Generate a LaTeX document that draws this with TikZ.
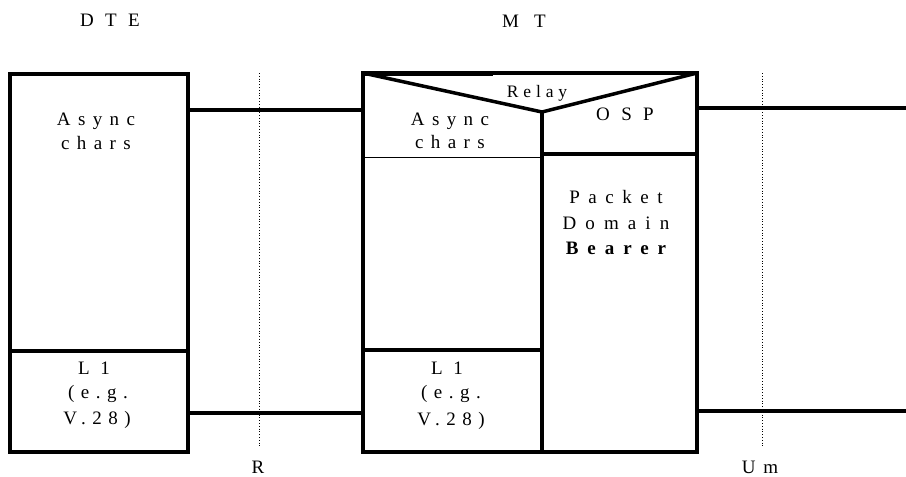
\documentclass[tikz,border=0pt]{standalone}
\usepackage{fontspec}
\setmainfont{Liberation Serif}
\newcommand{\lsp}[1]{\addfontfeature{LetterSpace=#1}}
\begin{document}
\begin{tikzpicture}[x=1pt,y=-1pt,
  txt/.style={font=\fontsize{19}{24}\selectfont, inner sep=0pt, anchor=base},
  boxn/.style={draw, line width=4pt, outer sep=0pt, inner sep=0pt},
  thickln/.style={line width=4pt},
  conn/.style={line width=3.2pt},
  relayln/.style={line width=3.5pt},
  thinln/.style={line width=1pt},
  refln/.style={dotted, line width=0.8pt}]
\useasboundingbox (0,0) rectangle (906,477);

% headers
\node[txt] (hdte) at (110,26) {\lsp{60}DTE};
\node[txt] (hmt) at (524,27) {\lsp{80}MT};

% reference points (dotted)
\draw[refln] (259,73) -- (259,448);
\draw[refln] (762,73) -- (762,448);
\node[txt] (lr) at (258,473) {R};
\node[txt] (lum) at (760,473) {\lsp{40}Um};

% DTE box
\node[boxn, minimum width=178pt, minimum height=378pt] (dte) at (99,263) {};
\draw[thickln] (dte.west |- 0,351) -- (dte.east |- 0,351);

% MT box
\node[boxn, minimum width=334pt, minimum height=379pt, line width=3.5pt] (mt) at (530,262.5) {};
\coordinate (apex) at (542,112);
\draw[line width=5pt] (mt.north west) -- (493,73);
\draw[relayln, line join=miter] (mt.north west) -- (apex) -- (mt.north east);
\draw[line width=4.5pt] (apex) -- (apex |- mt.south);
\draw[thinln] (mt.west |- 0,157) -- (542,157);
\draw[thickln] (542,154) -- (mt.east |- 0,154);
\draw[thickln] (mt.west |- 0,350) -- (542,350);

% connectors
\draw[conn] (dte.east |- 0,110) -- (mt.west |- 0,110);
\draw[conn] (dte.east |- 0,413) -- (mt.west |- 0,413);
\coordinate (endA) at (906,108);
\coordinate (endB) at (906,411);
\draw[conn] (mt.east |- endA) -- (endA);
\draw[conn] (mt.east |- endB) -- (endB);

% DTE texts
\node[txt] (da1) at (96,125) {\lsp{39}Async};
\node[txt] (da2) at (96,149) {\lsp{39}chars};
\node[txt] (dl1) at (94,374) {\lsp{55}L1};
\node[txt] (dl2) at (98,398) {\lsp{34}(e.g.};
\node[txt] (dl3) at (97,424) {\lsp{34}V.28)};

% MT texts
\node[txt, font=\fontsize{17.5}{22}\selectfont] (relay) at (537,97) {\lsp{28}Relay};
\node[txt] (osp) at (625,120) {\lsp{60}OSP};
\node[txt] (ma1) at (450,125) {\lsp{39}Async};
\node[txt] (ma2) at (450,148) {\lsp{39}chars};
\node[txt] (ml1) at (447,374) {\lsp{55}L1};
\node[txt] (ml2) at (451,398) {\lsp{34}(e.g.};
\node[txt] (ml3) at (451,425) {\lsp{34}V.28)};
\node[txt] (p1) at (616,203) {\lsp{45}Packet};
\node[txt] (p2) at (616,229) {\lsp{48}Domain};
\node[txt] (p3) at (616,254) {\bfseries\lsp{47}Bearer};
\end{tikzpicture}
\end{document}
